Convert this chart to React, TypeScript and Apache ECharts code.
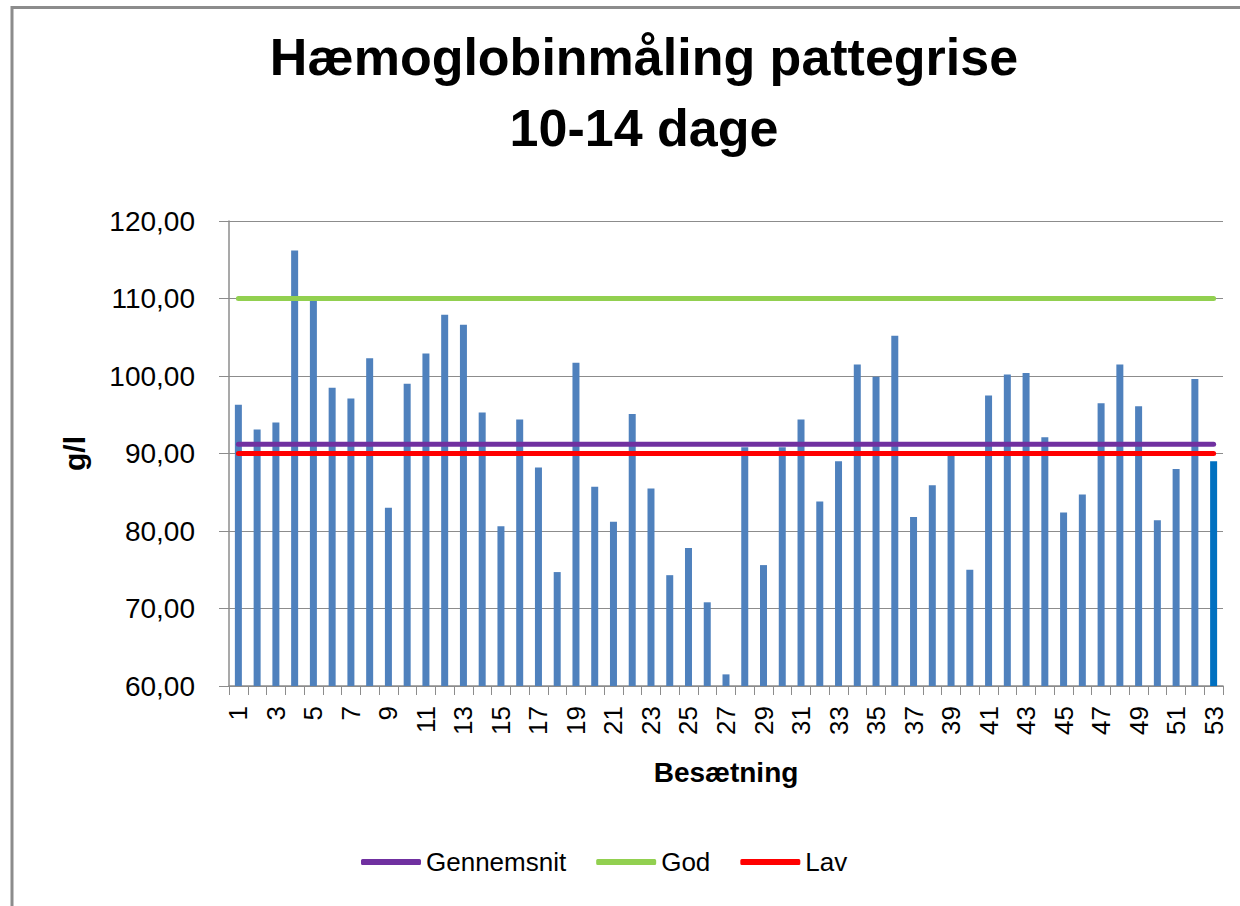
import React, { useEffect, useRef } from "react";
import * as echarts from "echarts";

const TITLE_LINES = ["Hæmoglobinmåling pattegrise", "10-14 dage"];
const X_NAME = "Besætning";
const Y_NAME = "g/l";

const categories = [
  "1", "2", "3", "4", "5", "6", "7", "8", "9", "10",
  "11", "12", "13", "14", "15", "16", "17", "18", "19", "20",
  "21", "22", "23", "24", "25", "26", "27", "28", "29", "30",
  "31", "32", "33", "34", "35", "36", "37", "38", "39", "40",
  "41", "42", "43", "44", "45", "46", "47", "48", "49", "50",
  "51", "52", "53",
];

const hemoglobin = [
  96.3, 93.1, 94.0, 116.2, 109.7, 98.5, 97.1, 102.3, 83.0, 99.0,
  102.9, 107.9, 106.6, 95.3, 80.6, 94.4, 88.2, 74.7, 101.7, 85.7,
  81.2, 95.1, 85.5, 74.3, 77.8, 70.8, 61.5, 90.8, 75.6, 90.8,
  94.4, 83.8, 89.0, 101.5, 99.9, 105.2, 81.8, 85.9, 89.7, 75.0,
  97.5, 100.2, 100.4, 92.1, 82.4, 84.7, 96.5, 101.5, 96.1, 81.4,
  88.0, 99.6, 89.0,
];

const GENNEMSNIT = 91.2;
const GOD = 110;
const LAV = 90;

const yTicks = { min: 60, max: 120, interval: 10 };

const FONT = "'Liberation Sans', Arial, sans-serif";

export default function App() {
  const ref = useRef<HTMLDivElement>(null);

  useEffect(() => {
    if (!ref.current) return;
    const chart = echarts.init(ref.current, undefined, { renderer: "svg" });
    const first = categories[0];
    const last = categories[categories.length - 1];
    const lineSeries = (name: string, value: number, color: string) => ({
      name,
      type: "line",
      data: [
        [first, value],
        [last, value],
      ],
      symbol: "none",
      z: 5,
      lineStyle: { color, width: 5, cap: "round" },
      itemStyle: { color },
    });
    chart.setOption({
      animation: false,
      backgroundColor: "#ffffff",
      textStyle: { fontFamily: FONT },
      graphic: [
        {
          type: "rect",
          shape: { x: 12, y: 7.5, width: 1240, height: 910 },
          style: { fill: "none", stroke: "#8c8c8c", lineWidth: 3 },
          silent: true,
        },
        {
          type: "text",
          x: 644,
          y: 57,
          style: {
            text: TITLE_LINES[0],
            fontFamily: FONT,
            fontWeight: "bold",
            fontSize: 52,
            fill: "#000",
            textAlign: "center",
            textVerticalAlign: "middle",
          },
        },
        {
          type: "text",
          x: 644,
          y: 128,
          style: {
            text: TITLE_LINES[1],
            fontFamily: FONT,
            fontWeight: "bold",
            fontSize: 52,
            fill: "#000",
            textAlign: "center",
            textVerticalAlign: "middle",
          },
        },
      ],
      legend: {
        left: 356,
        top: 844,
        data: ["Gennemsnit", "God", "Lav"],
        icon: "roundRect",
        itemWidth: 60,
        itemHeight: 6,
        itemGap: 30,
        textStyle: { fontFamily: FONT, fontSize: 26, color: "#000" },
      },
      grid: { left: 229, right: 17, top: 221, bottom: 220, containLabel: false },
      xAxis: {
        type: "category",
        data: categories,
        boundaryGap: true,
        name: X_NAME,
        nameLocation: "middle",
        nameGap: 72,
        nameTextStyle: { fontFamily: FONT, fontWeight: "bold", fontSize: 28, color: "#000" },
        axisLine: { lineStyle: { color: "#8c8c8c", width: 1.5 } },
        axisTick: { show: true, length: 9, alignWithLabel: false, interval: 0, lineStyle: { color: "#8c8c8c" } },
        axisLabel: {
          interval: 1,
          rotate: 90,
          margin: 20,
          fontFamily: FONT,
          fontSize: 26,
          color: "#000",
        },
      },
      yAxis: {
        type: "value",
        min: yTicks.min,
        max: yTicks.max,
        interval: yTicks.interval,
        name: Y_NAME,
        nameLocation: "middle",
        nameGap: 140,
        nameTextStyle: { fontFamily: FONT, fontWeight: "bold", fontSize: 30, color: "#000" },
        axisLine: { show: true, lineStyle: { color: "#8c8c8c", width: 1.5 } },
        axisTick: { show: true, length: 10, lineStyle: { color: "#8c8c8c" } },
        splitLine: { show: true, lineStyle: { color: "#8c8c8c", width: 1.2 } },
        axisLabel: {
          margin: 34,
          fontFamily: FONT,
          fontSize: 28,
          color: "#000",
          formatter: (v: number) => v.toFixed(2).replace(".", ","),
        },
      },
      series: [
        {
          name: "Hæmoglobin",
          type: "bar",
          data: hemoglobin.map((v, i) =>
            i === hemoglobin.length - 1 ? { value: v, itemStyle: { color: "#0070C0" } } : v
          ),
          barWidth: 7,
          itemStyle: { color: "#4F81BD" },
          z: 2,
        },
        lineSeries("Gennemsnit", GENNEMSNIT, "#7030A0"),
        lineSeries("God", GOD, "#92D050"),
        lineSeries("Lav", LAV, "#FF0000"),
      ],
    });
    return () => chart.dispose();
  }, []);

  return (
    <div
      ref={ref}
      style={{ position: "fixed", left: 0, top: 0, width: 1240, height: 906 }}
    />
  );
}
